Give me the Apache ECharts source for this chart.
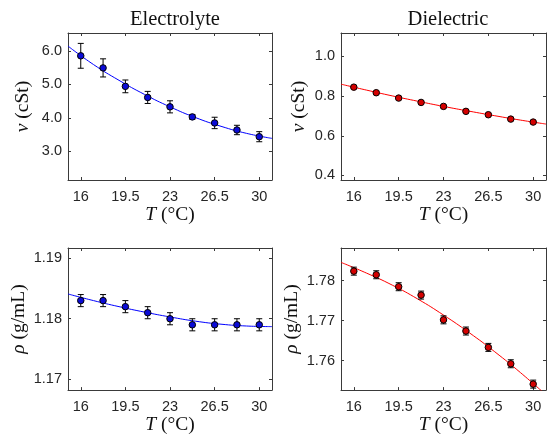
<!DOCTYPE html>
<html><head><meta charset="utf-8">
<script src="https://cdn.jsdelivr.net/npm/echarts@6/dist/echarts.min.js"></script>
<style>html,body{margin:0;padding:0;background:#fff}#c{width:549px;height:436px}</style>
</head><body><div id="c"></div>
<script>
// ---- data ----
const temps = [16, 17.75, 19.5, 21.25, 23, 24.75, 26.5, 28.25, 30];
const xTicks = [16, 19.5, 23, 26.5, 30];
const fitT = [15, 17, 19, 21, 23, 25, 27, 29, 31];

const elecVisc    = [5.85, 5.49, 4.94, 4.61, 4.33, 4.03, 3.85, 3.64, 3.44];
const elecViscErr = [0.37, 0.27, 0.19, 0.18, 0.18, 0.07, 0.17, 0.14, 0.15];
const elecViscFit = [6.14, 5.59, 5.12, 4.70, 4.33, 4.01, 3.75, 3.54, 3.39];
const elecViscTicks = [3, 4, 5, 6];

const dielVisc    = [0.845, 0.817, 0.790, 0.768, 0.748, 0.723, 0.706, 0.684, 0.669];
const dielViscErr = [0.004, 0.004, 0.004, 0.004, 0.004, 0.004, 0.004, 0.004, 0.004];
const dielViscFit = [0.860, 0.830, 0.801, 0.774, 0.748, 0.724, 0.701, 0.679, 0.659];
const dielViscTicks = [0.4, 0.6, 0.8, 1.0];

const elecDens    = [1.183, 1.183, 1.182, 1.181, 1.180, 1.179, 1.179, 1.179, 1.179];
const elecDensErr = [0.001, 0.001, 0.001, 0.001, 0.001, 0.001, 0.001, 0.001, 0.001];
const elecDensFit = [1.1841, 1.1830, 1.1820, 1.1811, 1.1803, 1.1796, 1.1791, 1.1788, 1.1787];
const elecDensTicks = [1.17, 1.18, 1.19];

const dielDens    = [1.7824, 1.7815, 1.7785, 1.7764, 1.7702, 1.7674, 1.7633, 1.7592, 1.7541];
const dielDensErr = [0.001, 0.001, 0.001, 0.001, 0.001, 0.001, 0.001, 0.001, 0.001];
const dielDensFit = [1.7846, 1.7819, 1.7789, 1.7754, 1.7714, 1.7670, 1.7622, 1.7570, 1.7514];
const dielDensTicks = [1.76, 1.77, 1.78];

const titles = ['Electrolyte', 'Dielectric'];

// ---- layout / style ----
const grids = [
  {left: 68, top: 33, width: 204, height: 147},
  {left: 341, top: 33, width: 205, height: 147},
  {left: 68, top: 248, width: 204, height: 147},
  {left: 341, top: 248, width: 205, height: 147}
];
const panels = [
  {y: elecVisc, e: elecViscErr, f: elecViscFit, ticks: elecViscTicks, min: 2.15, max: 6.53, dec: 1, name: '{g|ν} (cSt)', gap: 35, color: '#0000ff', fill: '#0b0bd6', xgap: 24},
  {y: dielVisc, e: dielViscErr, f: dielViscFit, ticks: dielViscTicks, min: 0.377, max: 1.118, dec: 1, name: '{g|ν} (cSt)', gap: 32, color: '#ff0000', fill: '#d40000', xgap: 24},
  {y: elecDens, e: elecDensErr, f: elecDensFit, ticks: elecDensTicks, min: 1.1682, max: 1.1917, dec: 2, name: '{g|ρ} (g/mL)', gap: 39, color: '#0000ff', fill: '#0b0bd6', xgap: 22},
  {y: dielDens, e: dielDensErr, f: dielDensFit, ticks: dielDensTicks, min: 1.7526, max: 1.7882, dec: 2, name: '{g|ρ} (g/mL)', gap: 39, color: '#ff0000', fill: '#d40000', xgap: 22}
];

const axisColor = '#3a3a3a';
const serif = 'Liberation Serif';
const sans = 'Liberation Sans';
const nameStyle = {fontFamily: serif, fontSize: 19.5, color: '#111',
  rich: {g: {fontFamily: serif, fontSize: 19.5, fontStyle: 'italic', color: '#111'},
         i: {fontFamily: serif, fontSize: 19.5, fontStyle: 'italic', color: '#111'}}};

const xAxes = [], yAxes = [], series = [];
panels.forEach((p, k) => {
  const common = {min: 15, max: 31, gridIndex: k, splitLine: {show: false},
    axisLine: {show: true, onZero: false, lineStyle: {color: axisColor, width: 1}}};
  xAxes.push(Object.assign({}, common, {type: 'value', position: 'bottom',
    name: '{i|T} (°C)', nameLocation: 'middle', nameGap: p.xgap, nameTextStyle: nameStyle,
    axisTick: {inside: true, length: 3, lineStyle: {color: axisColor}, customValues: xTicks},
    axisLabel: {customValues: xTicks, fontFamily: sans, fontSize: 14.5, color: '#262626', margin: 9,
      formatter: v => String(v)}}));
  xAxes.push(Object.assign({}, common, {type: 'value', position: 'top',
    axisTick: {inside: true, length: 3, lineStyle: {color: axisColor}, customValues: xTicks},
    axisLabel: {show: false}}));
  const ycommon = {type: 'value', min: p.min, max: p.max, gridIndex: k, splitLine: {show: false},
    axisLine: {show: true, onZero: false, lineStyle: {color: axisColor, width: 1}}};
  yAxes.push(Object.assign({}, ycommon, {position: 'left',
    name: p.name, nameLocation: 'middle', nameGap: p.gap, nameRotate: 90, nameTextStyle: nameStyle,
    axisTick: {inside: true, length: 3, lineStyle: {color: axisColor}, customValues: p.ticks},
    axisLabel: {customValues: p.ticks, fontFamily: sans, fontSize: 14.5, color: '#262626', margin: 6,
      formatter: v => v.toFixed(p.dec)}}));
  yAxes.push(Object.assign({}, ycommon, {position: 'right',
    axisTick: {inside: true, length: 3, lineStyle: {color: axisColor}, customValues: p.ticks},
    axisLabel: {show: false}}));

  series.push({type: 'line', xAxisIndex: 2 * k, yAxisIndex: 2 * k, smooth: 0.5, symbol: 'none',
    clip: true, z: 2, lineStyle: {color: p.color, width: 1},
    data: fitT.map((t, i) => [t, p.f[i]])});
  series.push({type: 'custom', xAxisIndex: 2 * k, yAxisIndex: 2 * k, z: 3, clip: false,
    encode: {x: 0, y: 1},
    data: temps.map((t, i) => [t, p.y[i], p.e[i]]),
    renderItem: (params, api) => {
      const x = api.value(0), y = api.value(1), e = api.value(2);
      const lo = api.coord([x, y - e]), hi = api.coord([x, y + e]);
      const w = 3;
      const st = {stroke: '#000', lineWidth: 1};
      return {type: 'group', children: [
        {type: 'line', shape: {x1: lo[0], y1: lo[1], x2: hi[0], y2: hi[1]}, style: st},
        {type: 'line', shape: {x1: lo[0] - w, y1: lo[1], x2: lo[0] + w, y2: lo[1]}, style: st},
        {type: 'line', shape: {x1: hi[0] - w, y1: hi[1], x2: hi[0] + w, y2: hi[1]}, style: st}
      ]};
    }});
  series.push({type: 'scatter', xAxisIndex: 2 * k, yAxisIndex: 2 * k, z: 4, symbol: 'circle',
    symbolSize: 6.5, itemStyle: {color: p.fill, borderColor: '#000', borderWidth: 1, opacity: 1},
    data: temps.map((t, i) => [t, p.y[i]])});
});

const chart = echarts.init(document.getElementById('c'), null, {renderer: 'canvas'});
chart.setOption({
  animation: false,
  backgroundColor: '#fff',
  title: [
    {text: titles[0], left: 170, top: 4, textAlign: 'center',
      textStyle: {fontFamily: serif, fontSize: 20.5, fontWeight: 'normal', color: '#111'}},
    {text: titles[1], left: 443, top: 4, textAlign: 'center',
      textStyle: {fontFamily: serif, fontSize: 20.5, fontWeight: 'normal', color: '#111'}}
  ],
  grid: grids,
  xAxis: xAxes,
  yAxis: yAxes,
  series: series
});
</script></body></html>
